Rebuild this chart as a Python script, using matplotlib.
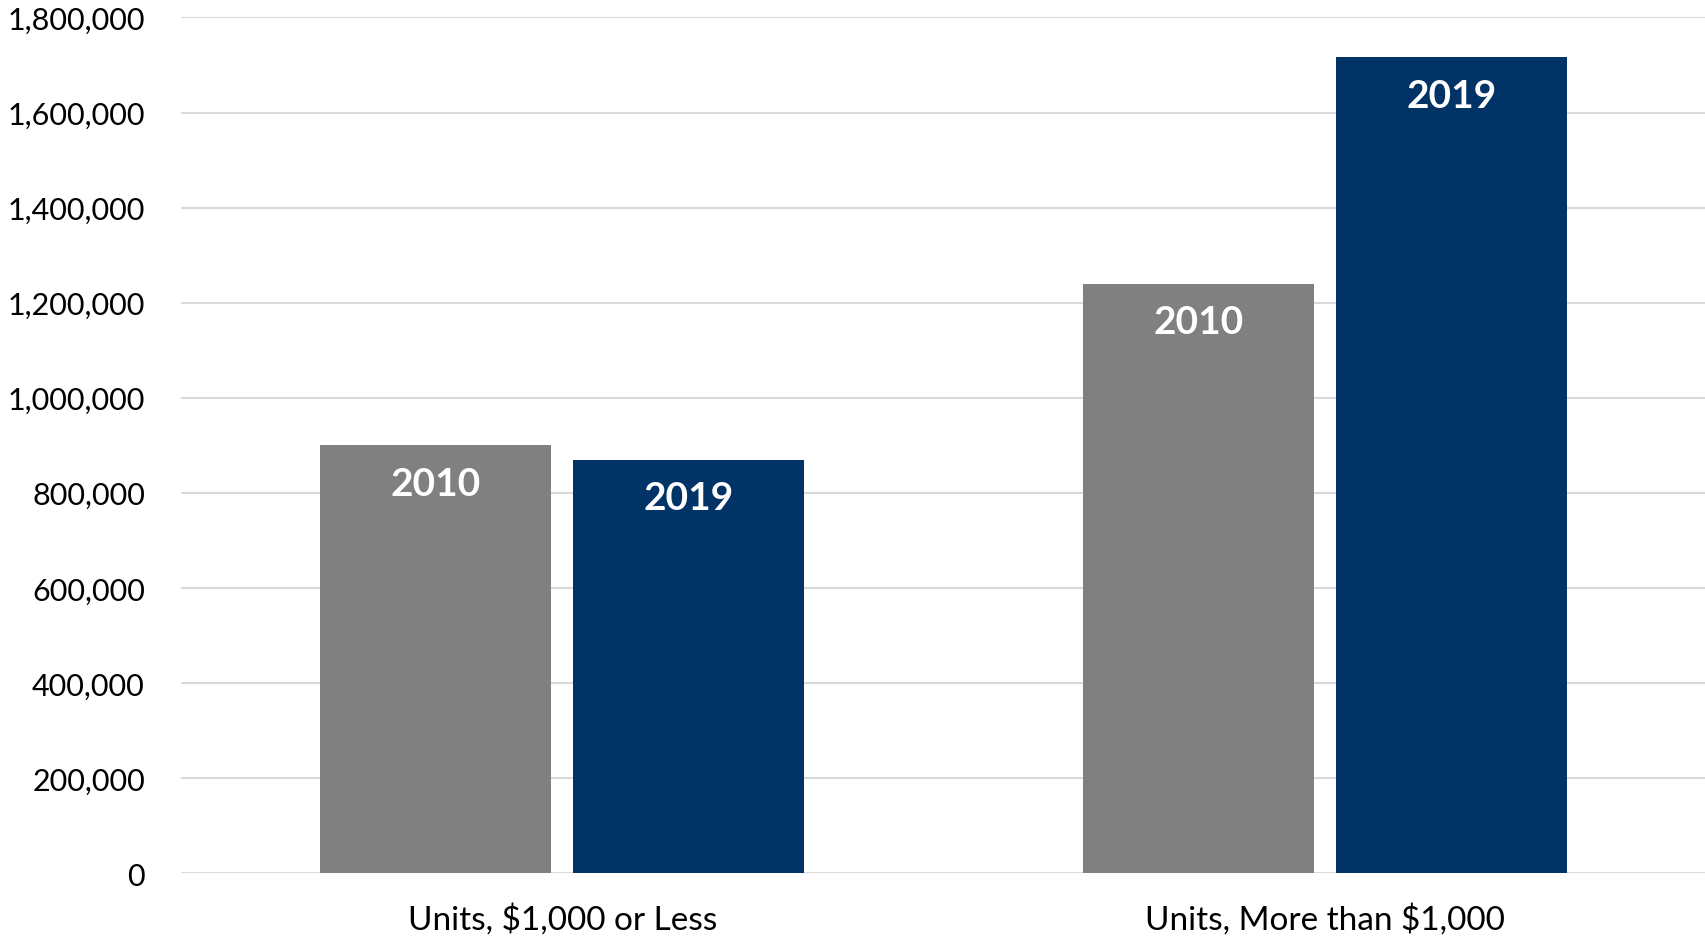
import matplotlib
matplotlib.use("Agg")
import matplotlib.pyplot as plt
import numpy as np
from matplotlib.ticker import FuncFormatter

categories = ["Units, $1,000 or Less", "Units, More than $1,000"]
series_names = ["2010", "2019"]
values_2010 = [900000, 1240000]
values_2019 = [869000, 1716000]
colors = ["#808080", "#013366"]

plt.rcParams['font.family'] = ['Lato', 'DejaVu Sans']

fig = plt.figure(figsize=(17.06, 9.37), dpi=100)
ax = fig.add_axes([0.1061, 0.0672, 0.8939, 0.9131])

x = np.arange(len(categories))
w = 0.303
off = 0.166
for vals, name, col, sign in [(values_2010, series_names[0], colors[0], -1),
                               (values_2019, series_names[1], colors[1], 1)]:
    bars = ax.bar(x + sign * off, vals, width=w, color=col, zorder=3)
    for b, v in zip(bars, vals):
        ax.annotate(name, (b.get_x() + b.get_width() / 2, v), xytext=(0, -38),
                    textcoords='offset pixels', ha='center', va='center',
                    color='white', fontsize=28, fontweight='bold', zorder=4)

ax.set_xlim(-0.5, 1.5)
ax.set_ylim(0, 1800000)
ax.set_yticks(np.arange(0, 1800001, 200000))
ax.yaxis.set_major_formatter(FuncFormatter(lambda v, p: f"{int(v):,}"))
ax.set_xticks(x)
ax.set_xticklabels(categories, fontsize=24)
ax.tick_params(axis='y', labelsize=22, length=0, pad=26)
ax.tick_params(axis='x', length=0, pad=21)
ax.grid(axis='y', color='#d9d9d9', linewidth=1.5, zorder=0)
for s in ax.spines.values():
    s.set_visible(False)

fig.savefig("out.png", dpi=100)
